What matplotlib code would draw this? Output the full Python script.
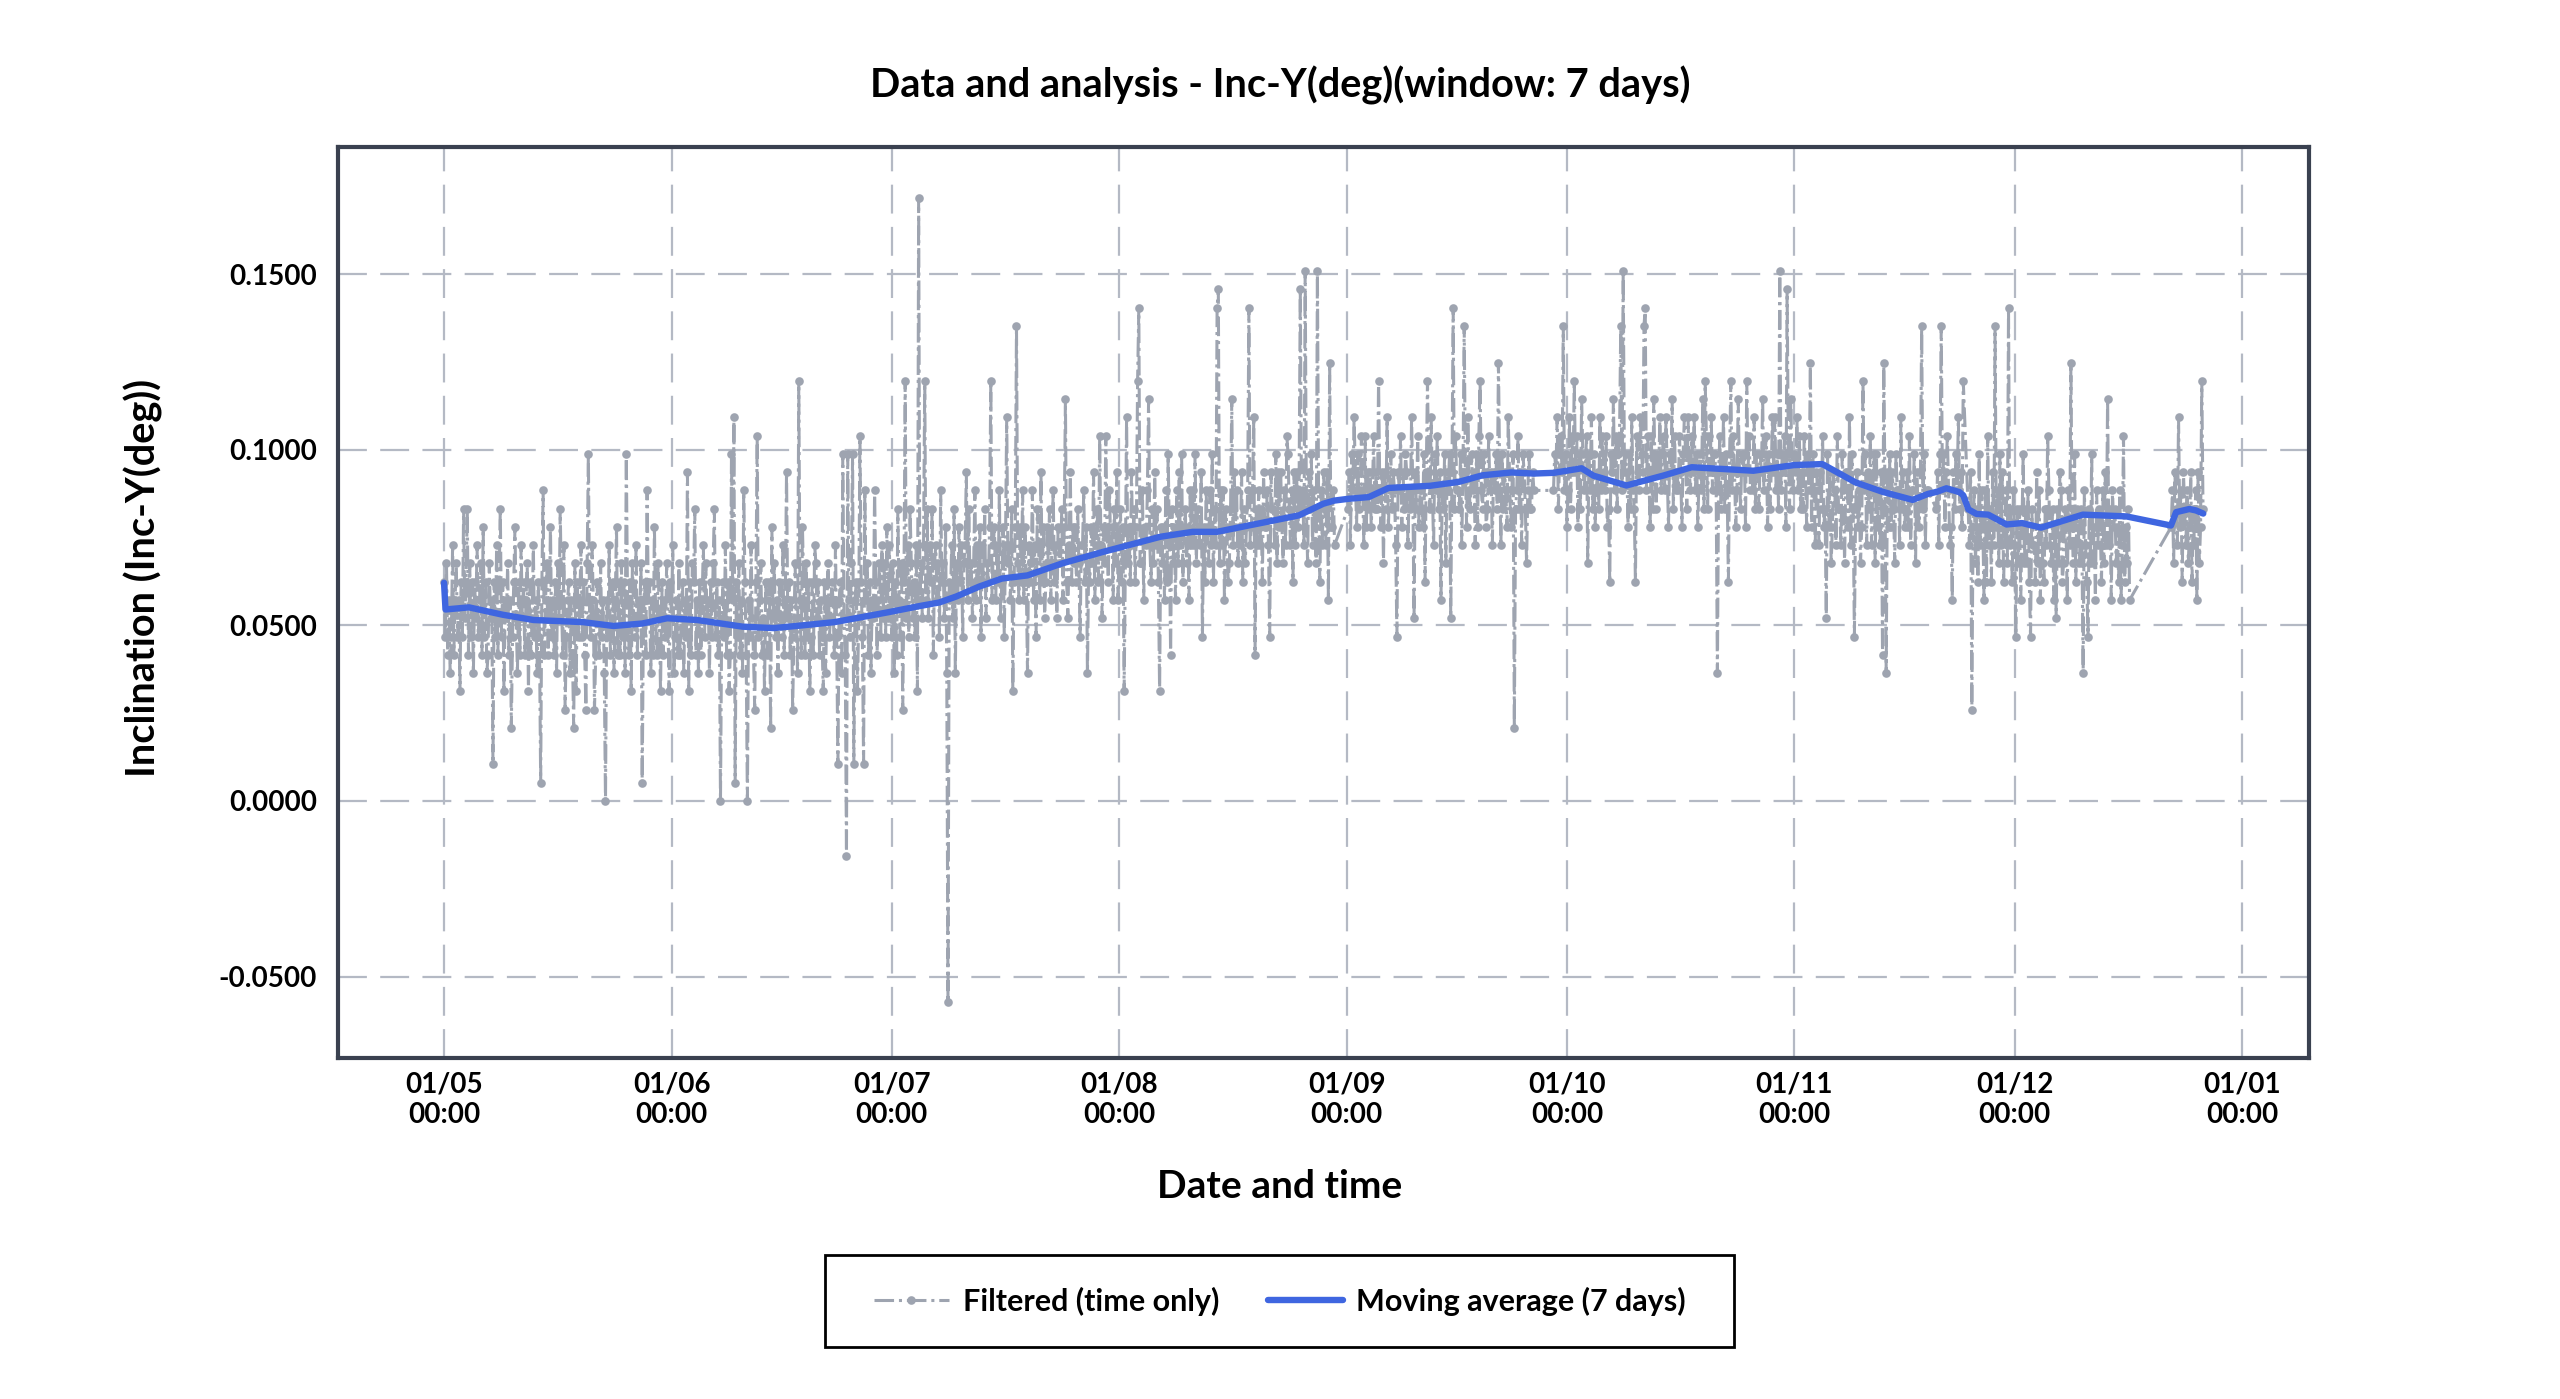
import matplotlib
matplotlib.use("Agg")
import matplotlib.pyplot as plt
import matplotlib.dates as mdates
from matplotlib.patches import Rectangle
import numpy as np
import pandas as pd

plt.rcParams['font.family'] = ['Lato', 'DejaVu Sans']
plt.rcParams['font.weight'] = 'bold'

# raw sensor counts (1 count = 0.0052 deg), one sample every 4 hours
COUNT_DEG = 0.0052
SAMPLE_STEP = '4h'

seg_starts = ['2023-05-01 00:00', '2023-09-01 04:00', '2023-09-29 04:00',
              '2023-11-20 08:00', '2023-11-24 16:00', '2023-12-22 08:00']

seg_counts = [
    # 01/05 -> 30/08
    """12 9 13 8 11 7  9 14 8 11 13 9  11 6 12 9 16 10
       12 16 8 13 9 12  7 12 10 14 9 11  13 8 15 9 12 7
       8 13 10 11 2 12  9 14 8 12 16 9  12 6 11 10 13 8
       11 4 9 12 15 10  7 12 8 14 10 12  8 11 13 6 12 8
       10 14 9 11 7 12  9 1 12 17 8 11  13 8 10 15 9 11
       8 12 7 13 10 16  11 8 14 5 9 11  12 7 11 8 4 13
       6 12 9 11 14 9  12 8 5 13 19 10  9 14 11 5 8 12
       10 8 13 9 11 7  0 11 9 14 8 10  12 7 11 15 8 12
       8 13 9 12 7 19  11 8 12 6 13 10  9 14 8 11 10 13
       1 10 12 8 17 11  12 7 11 8 15 10  8 13 10 6 12 8
       11 9 13 10 6 12  10 14 7 9 11 8  13 8 10 12 7 11
       9 18 6 12 8 13  12 16 8 11 7 12  8 11 14 9 13 10
       11 7 12 9 13 16  9 12 8 11 0 10  12 9 14 8 12 6
       8 19 11 21 1 12  9 13 8 11 7 17  12 8 0 11 9 14
       10 8 5 12 20 9  11 13 8 10 6 12  8 11 12 4 15 10
       13 9 11 7 12 10  9 14 8 11 18 10  12 8 11 5 9 13
       10 7 23 11 8 15  12 8 13 9 12 6  9 12 8 14 13 10
       12 8 11 9 6 12  7 11 13 9 10 12  11 8 14 9 2 11
       12 7 19 10 8 -3  19 11 9 13 19 2  11 12 6 10 20 12
       9 2 17 11 13 8  12 7 11 10 17 12  8 11 13 9 14 10
       13 9 15 10 14 11  9 13 7 12 8 16  11 9 13 5 12 23
       10 14 9 16 13 10  12 9 14 6 33 11  13 10 14 23 11 16
       10 14 12 16 8 13  14 11 13 9 17 12  13 10 15 7 -11 12
       11 14 10 16 7 13  11 15 12 14 9 13  14 18 11 16 12 13
       10 13 17 11 14 12  15 9 14 12 16 10  13 12 15 23 11 14
       15 11 14 12 17 10  12 15 9 14 21 13  14 11 16 6 12 15
       26 13 11 15 12 17  11 15 12 7 14 12  13 17 11 14 9 16
       14 11 18 12 15 10  12 15 13 16 11 14  17 12 14 10 15 13
       13 16 11 15 22 12  10 14 18 12 15 13  15 12 16 13 9 14
       14 17 12 15 7 13  12 15 13 18 11 14  16 12 20 14 10 15
       13 20 15 12 17 14  15 11 16 13 18 11  14 16 12 15 6 13
       21 13 15 12 18 14  16 12 15 23 27 13  13 17 11 15 14 17
       22 14 12 16 13 18  14 16 12 6 15 13  15 11 17 12 19 14
       8 16 13 15 11 17  13 18 14 19 12 15  16 13 15 11 17 14
       17 14 19 13 16 15  14 18 9 15 12 17  15 13 17 14 19 12
       16 14 27 28 13 17  14 17 11 16 15 12  13 16 22 14 18 15
       17 13 15 14 18 12  16 13 15 17 27 14  15 17 21 8 16 14
       17 14 16 12 18 15  15 17 14 9 18 16  16 14 19 13 18 15
       18 15 13 17 14 20  19 16 14 17 12 18  14 18 15 17 28 16
       17 14 29 16 13 18  16 19 14 17 15 13  29 16 12 17 14 18
       16 14 18 11 24 15  15 17 14""",
    # 01/09 -> 27/09
    """16 18 14 19 17 21  18 15 19 16 17 20  17 14 20 15 18 16
       18 15 17 20 16 18  16 23 17 15 18 13  18 16 21 15 17 19
       16 18 17 14 9 18  17 20 15 18 16 19  18 14 17 16 21 17
       10 18 16 20 15 17  17 15 19 12 18 23  18 16 21 17 14 19
       17 20 16 18 11 17  16 19 13 18 17 19  10 18 27 16 20 17
       17 16 19 14 18 26  18 15 21 17 16 19  17 18 14 19 15 20
       23 17 16 19 18 15  16 20 17 18 14 18  17 19 16 24 18 14
       19 16 18 17 15 21  18 15 17 19 4 16  17 20 16 18 14 19
       18 16 13 17 19 16  16 18 17""",
    # 29/09 -> 20/11
    """17 19 18 21 16 19  20 18 26 17 19 15  17 21 16 20 18 23
       18 20 15 19 16 22  19 17 18 20 13 19  17 21 16 19 15 17
       18 16 21 17 20 18  17 20 15 16 12 19  18 22 17 20 16 19
       20 26 17 29 18 19  18 15 19 16 21 17  16 12 20 18 17 21
       19 18 26 27 17 20  18 15 20 16 22 18  16 19 18 21 17 19
       20 17 21 18 15 19  18 22 16 20 17 18  17 20 18 15 19 21
       19 16 21 18 17 20  18 21 17 19 15 18  19 17 22 16 23 20
       16 20 18 21 17 19  19 17 7 18 20 16  18 21 16 19 17 12
       19 23 17 20 18 15  17 22 18 16 19 18  19 15 23 18 20 17
       18 17 21 16 19 18  16 19 18 22 17 19  20 15 19 16 18 21
       18 21 17 19 16 29  17 19 18 20 15 28  19 16 22 18 17 19
       18 21 17 20 16 18  16 20 18 15 19 17  24 15 19 17 14 18
       17 14 18 16 20 15  16 10 19 15 18 13  15 18 17 14 20 16
       16 14 19 17 13 18  18 15 21 14 19 16  9 16 18 15 17 13
       15 23 17 19 14 18  16 20 14 17 19 13  19 15 17 14 18 8
       24 17 7 18 15 19  15 18 16 13 19 17  17 14 21 16 18 15
       16 18 15 20 14 17  17 19 13 18 16 15  18 26 16 19 14 17
       17""",
    # 20/11 -> 24/11
    """16 18 14 19 26 17  19 15 18 20 17 14  15 11 18 16 19 17
       21 16 18 15 23""",
    # 24/11 -> 16/12
    """16 14 18 5 15 17  13 16 12 19 14 17  15 11 17 12 20 14
       16 12 18 14 26 15  17 13 19 14 18 12  15 17 13 27 14 16
       12 17 14 9 16 13  16 11 15 19 13 16  13 17 12 9 16 14
       14 12 18 13 17 11  15 13 12 16 14 20  17 14 13 16 11 15
       10 16 13 18 17 12  13 16 15 11 17 14  24 15 13 19 12 16
       15 13 16 14 7 17  14 12 9 16 13 19  13 15 11 17 14 16
       15 12 17 13 18 14  22 14 16 11 17 15  16 13 15 12 17 11
       14 20 12 15 13 16  11""",
    # 22/12 -> 26/12
    """15 17 13 18 16 14  21 15 17 12 18 16  14 17 13 15 18 12
       16 14 17 11 18 13  15 23 16""",
]

# 7-day moving average (days after 01/05, degrees)
ma_days = [0.0, 0.2, 3.4, 8.0, 12.2, 18.9, 23.1, 27.0, 30.4, 34.5, 40.7, 44.9,
           48.0, 53.2, 60.5, 64.6, 67.5, 69.8, 72.9, 76.0, 79.5, 84.2, 89.8,
           97.6, 102.0, 105.3, 112.0, 116.5, 119.8, 121.3, 123.2, 126.0, 128.7,
           134.3, 138.2, 141.5, 145.4, 148.5, 151.2, 155.0, 156.6, 161.1, 166.1,
           170.0, 178.4, 183.9, 187.8, 192.3, 196.0, 200.1, 202.2, 203.4, 204.7,
           206.5, 207.0, 207.7, 208.8, 210.4, 212.9, 215.0, 217.6, 223.3, 229.2,
           229.7, 235.3, 236.0, 237.8, 238.7, 239.7]
ma_values = [0.0621, 0.0545, 0.0551, 0.0530, 0.0515, 0.0509, 0.0498, 0.0505,
             0.0520, 0.0515, 0.0496, 0.0492, 0.0498, 0.0509, 0.0537, 0.0554,
             0.0565, 0.0582, 0.0610, 0.0633, 0.0642, 0.0676, 0.0709, 0.0752,
             0.0766, 0.0766, 0.0794, 0.0813, 0.0846, 0.0855, 0.0860, 0.0865,
             0.0891, 0.0897, 0.0908, 0.0927, 0.0935, 0.0932, 0.0934, 0.0947,
             0.0926, 0.0898, 0.0926, 0.0950, 0.0940, 0.0956, 0.0959, 0.0907,
             0.0880, 0.0857, 0.0874, 0.0880, 0.0890, 0.0879, 0.0870, 0.0830,
             0.0817, 0.0815, 0.0787, 0.0791, 0.0778, 0.0815, 0.0810, 0.0808,
             0.0784, 0.0822, 0.0831, 0.0827, 0.0818]

title = 'Data and analysis - Inc-Y(deg)(window: 7 days)'
x_label = 'Date and time'
y_label = 'Inclination (Inc-Y(deg))'
legend_labels = ['Filtered (time only)', 'Moving average (7 days)']
y_ticks = [-0.05, 0.0, 0.05, 0.10, 0.15]

# build the series
times, vals = [], []
for start, txt in zip(seg_starts, seg_counts):
    c = [int(v) for v in txt.split()]
    times.append(pd.date_range(start, periods=len(c), freq=SAMPLE_STEP))
    vals.append(np.array(c) * COUNT_DEG)
t_raw = np.concatenate([t.values for t in times])
y_raw = np.concatenate(vals)

t0 = pd.Timestamp('2023-05-01')
t_ma = t0 + pd.to_timedelta(ma_days, unit='D')

fig = plt.figure(figsize=(12.8, 6.995), dpi=200)
ax = fig.add_axes([0.132, 0.244, 0.770, 0.651])

gray = '#9ea4b0'
l1, = ax.plot(t_raw, y_raw, linestyle='-.', color=gray, lw=1.1,
              marker='o', markersize=2.1, zorder=2)
l2, = ax.plot(t_ma, ma_values, color='#3f66e0', lw=2.3, zorder=3,
              solid_joinstyle='round', solid_capstyle='round')

ax.set_xlim(pd.Timestamp('2023-04-16 13:00'), pd.Timestamp('2024-01-10 03:00'))
ax.set_ylim(-0.0731, 0.1862)
ax.set_yticks(y_ticks)
ax.yaxis.set_major_formatter(plt.FormatStrFormatter('%.4f'))
ax.xaxis.set_major_locator(mdates.MonthLocator())
ax.xaxis.set_major_formatter(mdates.DateFormatter('%d/%m\n%H:%M'))

ax.grid(True, color='#b4b9c4', lw=0.8, linestyle=(0, (13, 6)))
ax.set_axisbelow(True)
ax.tick_params(length=0, labelsize=10, pad=7.5, colors='black')
ax.tick_params(axis='x', pad=5)
for s in ax.spines.values():
    s.set_color('#3a4150')
    s.set_linewidth(1.5)

fig.text(0.5, 0.939, title, ha='center', va='center', fontsize=14.3, fontweight='bold')
fig.text(0.5, 0.152, x_label, ha='center', va='center', fontsize=14, fontweight='bold')
fig.text(0.056, 0.587, y_label, ha='center', va='center', rotation=90,
         fontsize=14.3, fontweight='bold')

leg = fig.legend([l1, l2], legend_labels, loc='center', bbox_to_anchor=(0.5, 0.07),
                 ncol=2, frameon=False, columnspacing=1.6, handletextpad=0.45,
                 handlelength=2.45, prop={'size': 11, 'weight': 'bold'})
# legend box (wider than the legend contents)
fig.add_artist(Rectangle((0.3221, 0.0373), 0.3552, 0.0654, transform=fig.transFigure,
                         fill=False, edgecolor='black', lw=1.0))

fig.savefig('out.png', dpi=200)
